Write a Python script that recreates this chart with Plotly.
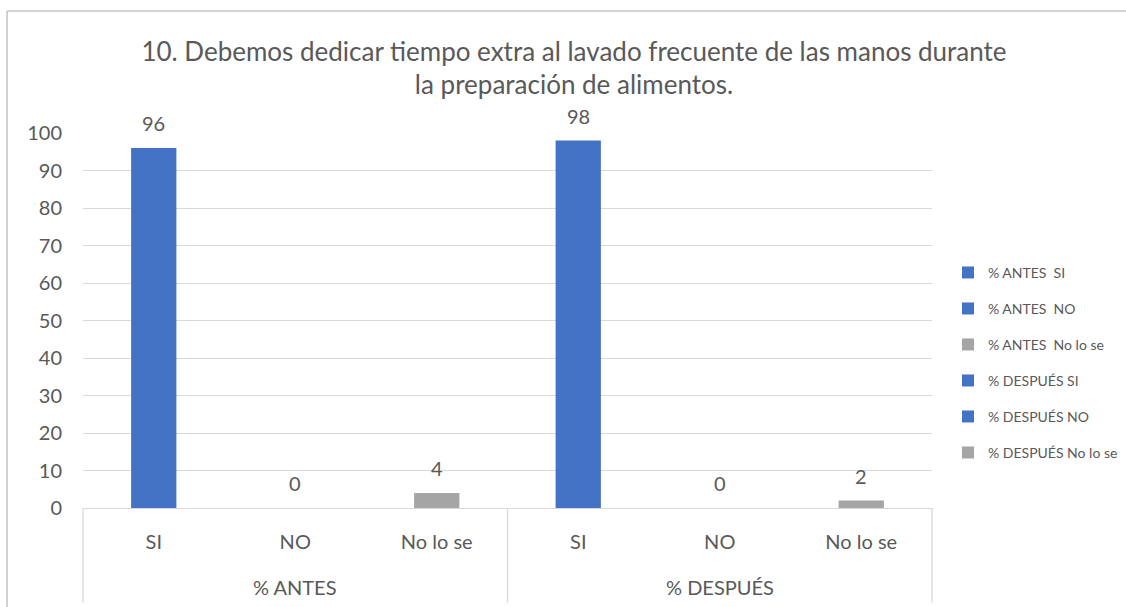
import plotly.graph_objects as go

# ---- data ----
groups = ["% ANTES", "% DESPUÉS"]
answers = ["SI", "NO", "No lo se"]
antes_values = [96, 0, 4]
despues_values = [98, 0, 2]
series_names = [
    "% ANTES\u00a0 SI",
    "% ANTES\u00a0 NO",
    "% ANTES\u00a0 No lo se",
    "% DESPUÉS SI",
    "% DESPUÉS NO",
    "% DESPUÉS No lo se",
]
answer_colors = ["#4472C4", "#4472C4", "#A5A5A5"]
y_ticks = [0, 10, 20, 30, 40, 50, 60, 70, 80, 90, 100]
title_text = ("10. Debemos dedicar tiempo extra al lavado frecuente de las manos durante"
              "<br>la preparación de alimentos.")

values_by_group = [antes_values, despues_values]

FONT = "Lato"
TXT = "#595959"
GRID = "#d9d9d9"

fig = go.Figure()
tick_pos = []
tick_txt = []
k = 0
for g, grp in enumerate(groups):
    for a, ans in enumerate(answers):
        pos = g * len(answers) + a
        val = values_by_group[g][a]
        tick_pos.append(pos)
        tick_txt.append(ans)
        fig.add_trace(go.Bar(
            x=[pos], y=[val], name=series_names[k],
            marker=dict(color=answer_colors[a], line=dict(width=0)),
            width=0.32, legendgroup=str(k),
            hovertemplate=f"{grp} {ans}: %{{y}}<extra></extra>",
        ))
        fig.add_annotation(
            x=pos, y=val, text=str(val), showarrow=False,
            yanchor="middle", yshift=25,
            font=dict(family=FONT, size=20, color=TXT),
        )
        k += 1

n_cat = len(groups) * len(answers)

# group labels + dividers for the two-level category axis
for g, grp in enumerate(groups):
    center = g * len(answers) + (len(answers) - 1) / 2
    fig.add_annotation(
        x=center, xref="x", y=0, yref="paper", yshift=-79,
        yanchor="middle", text=grp, showarrow=False,
        font=dict(family=FONT, size=20, color=TXT),
    )
for g in range(len(groups) + 1):
    fx = g / len(groups)
    fig.add_shape(type="line", xref="paper", yref="paper",
                  x0=fx, x1=fx, y0=0, y1=-0.252,
                  line=dict(color=GRID, width=1.3))

# outer chart border (only top and left edges are inside the picture)
fig.add_shape(type="line", xref="paper", yref="paper",
              x0=-0.0895, x1=1.4, y0=1.3253, y1=1.3253,
              line=dict(color="#c6c6c6", width=1.6), layer="below")
fig.add_shape(type="line", xref="paper", yref="paper",
              x0=-0.0895, x1=-0.0895, y0=-0.4, y1=1.3253,
              line=dict(color="#c6c6c6", width=1.6), layer="below")

fig.update_layout(
    width=1126, height=607,
    margin=dict(l=83, r=194, t=133, b=99, autoexpand=False),
    paper_bgcolor="white", plot_bgcolor="white",
    barmode="overlay",
    title=dict(text=title_text, x=574 / 1126, xanchor="center",
               y=1 - 60.5 / 607, yanchor="middle",
               font=dict(family=FONT, size=26, color=TXT)),
    legend=dict(xref="container", x=948 / 1126, xanchor="left",
                y=0.387, yanchor="middle",
                traceorder="grouped", tracegroupgap=14.8,
                font=dict(family=FONT, size=14, color=TXT),
                bgcolor="rgba(0,0,0,0)"),
    showlegend=True,
)
fig.update_xaxes(
    range=[-0.5, n_cat - 0.5], tickmode="array",
    tickvals=tick_pos, ticktext=tick_txt,
    showgrid=False, zeroline=False,
    showline=True, linecolor=GRID, linewidth=1.3,
    ticks="", ticklabelstandoff=16,
    tickfont=dict(family=FONT, size=20, color=TXT),
    fixedrange=True,
)
fig.update_yaxes(
    range=[0, 100], tickmode="array", tickvals=y_ticks,
    showgrid=True, gridcolor=GRID, gridwidth=1.3,
    zeroline=False, showline=False, ticks="",
    ticklabelstandoff=20,
    tickfont=dict(family=FONT, size=20, color=TXT),
    fixedrange=True,
)

fig.write_html("out.html")
